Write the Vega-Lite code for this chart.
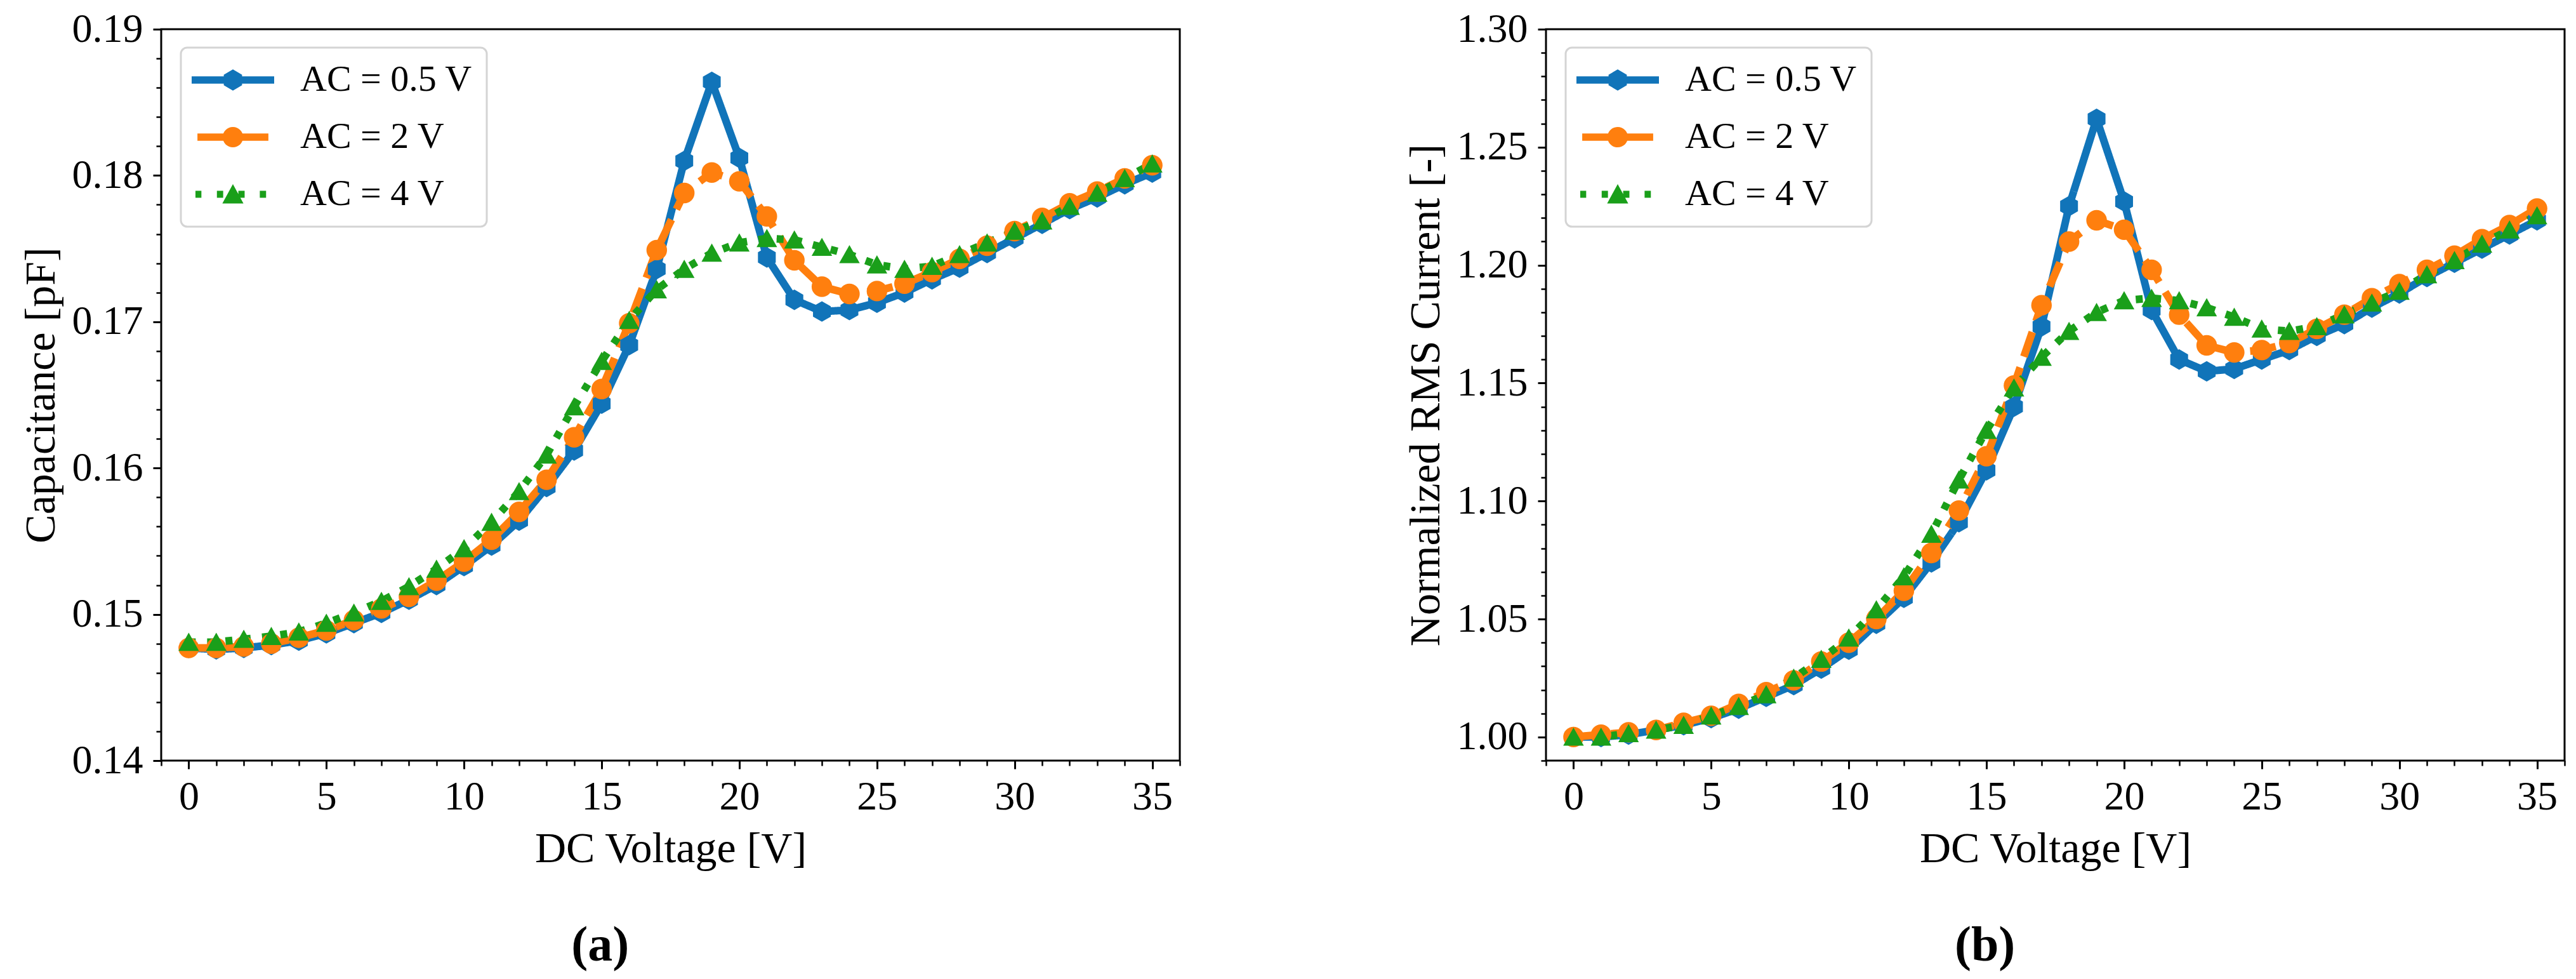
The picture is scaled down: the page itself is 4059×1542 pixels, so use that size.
{
  "$schema": "https://vega.github.io/schema/vega-lite/v6.json",
  "background": "white",
  "padding": {"left": 29, "top": 12, "right": 5, "bottom": 5},
  "datasets": {
    "cap": [
      {"v":0,"s":"AC = 0.5 V","y":0.1477},{"v":1,"s":"AC = 0.5 V","y":0.1476},{"v":2,"s":"AC = 0.5 V","y":0.1477},{"v":3,"s":"AC = 0.5 V","y":0.1479},
      {"v":4,"s":"AC = 0.5 V","y":0.1482},{"v":5,"s":"AC = 0.5 V","y":0.1487},{"v":6,"s":"AC = 0.5 V","y":0.1494},{"v":7,"s":"AC = 0.5 V","y":0.1501},
      {"v":8,"s":"AC = 0.5 V","y":0.1510},{"v":9,"s":"AC = 0.5 V","y":0.1520},{"v":10,"s":"AC = 0.5 V","y":0.1533},{"v":11,"s":"AC = 0.5 V","y":0.1547},
      {"v":12,"s":"AC = 0.5 V","y":0.1564},{"v":13,"s":"AC = 0.5 V","y":0.1587},{"v":14,"s":"AC = 0.5 V","y":0.1612},{"v":15,"s":"AC = 0.5 V","y":0.1644},
      {"v":16,"s":"AC = 0.5 V","y":0.1684},{"v":17,"s":"AC = 0.5 V","y":0.1736},{"v":18,"s":"AC = 0.5 V","y":0.1810},{"v":19,"s":"AC = 0.5 V","y":0.1864},
      {"v":20,"s":"AC = 0.5 V","y":0.1812},{"v":21,"s":"AC = 0.5 V","y":0.1744},{"v":22,"s":"AC = 0.5 V","y":0.1715},{"v":23,"s":"AC = 0.5 V","y":0.1707},
      {"v":24,"s":"AC = 0.5 V","y":0.1708},{"v":25,"s":"AC = 0.5 V","y":0.1713},{"v":26,"s":"AC = 0.5 V","y":0.1720},{"v":27,"s":"AC = 0.5 V","y":0.1729},
      {"v":28,"s":"AC = 0.5 V","y":0.1737},{"v":29,"s":"AC = 0.5 V","y":0.1747},{"v":30,"s":"AC = 0.5 V","y":0.1757},{"v":31,"s":"AC = 0.5 V","y":0.1767},
      {"v":32,"s":"AC = 0.5 V","y":0.1777},{"v":33,"s":"AC = 0.5 V","y":0.1785},{"v":34,"s":"AC = 0.5 V","y":0.1794},{"v":35,"s":"AC = 0.5 V","y":0.1802},
      {"v":0,"s":"AC = 2 V","y":0.1477},{"v":1,"s":"AC = 2 V","y":0.1477},{"v":2,"s":"AC = 2 V","y":0.1478},{"v":3,"s":"AC = 2 V","y":0.1480},
      {"v":4,"s":"AC = 2 V","y":0.1484},{"v":5,"s":"AC = 2 V","y":0.1489},{"v":6,"s":"AC = 2 V","y":0.1496},{"v":7,"s":"AC = 2 V","y":0.1504},
      {"v":8,"s":"AC = 2 V","y":0.1512},{"v":9,"s":"AC = 2 V","y":0.1523},{"v":10,"s":"AC = 2 V","y":0.1536},{"v":11,"s":"AC = 2 V","y":0.1551},
      {"v":12,"s":"AC = 2 V","y":0.1570},{"v":13,"s":"AC = 2 V","y":0.1592},{"v":14,"s":"AC = 2 V","y":0.1621},{"v":15,"s":"AC = 2 V","y":0.1654},
      {"v":16,"s":"AC = 2 V","y":0.1699},{"v":17,"s":"AC = 2 V","y":0.1749},{"v":18,"s":"AC = 2 V","y":0.1788},{"v":19,"s":"AC = 2 V","y":0.1802},
      {"v":20,"s":"AC = 2 V","y":0.1796},{"v":21,"s":"AC = 2 V","y":0.1772},{"v":22,"s":"AC = 2 V","y":0.1742},{"v":23,"s":"AC = 2 V","y":0.1724},
      {"v":24,"s":"AC = 2 V","y":0.1719},{"v":25,"s":"AC = 2 V","y":0.1721},{"v":26,"s":"AC = 2 V","y":0.1726},{"v":27,"s":"AC = 2 V","y":0.1734},
      {"v":28,"s":"AC = 2 V","y":0.1743},{"v":29,"s":"AC = 2 V","y":0.1752},{"v":30,"s":"AC = 2 V","y":0.1762},{"v":31,"s":"AC = 2 V","y":0.1771},
      {"v":32,"s":"AC = 2 V","y":0.1781},{"v":33,"s":"AC = 2 V","y":0.1789},{"v":34,"s":"AC = 2 V","y":0.1798},{"v":35,"s":"AC = 2 V","y":0.1807},
      {"v":0,"s":"AC = 4 V","y":0.1481},{"v":1,"s":"AC = 4 V","y":0.1481},{"v":2,"s":"AC = 4 V","y":0.1483},{"v":3,"s":"AC = 4 V","y":0.1485},
      {"v":4,"s":"AC = 4 V","y":0.1488},{"v":5,"s":"AC = 4 V","y":0.1494},{"v":6,"s":"AC = 4 V","y":0.1501},{"v":7,"s":"AC = 4 V","y":0.1509},
      {"v":8,"s":"AC = 4 V","y":0.1519},{"v":9,"s":"AC = 4 V","y":0.1531},{"v":10,"s":"AC = 4 V","y":0.1545},{"v":11,"s":"AC = 4 V","y":0.1563},
      {"v":12,"s":"AC = 4 V","y":0.1584},{"v":13,"s":"AC = 4 V","y":0.1609},{"v":14,"s":"AC = 4 V","y":0.1642},{"v":15,"s":"AC = 4 V","y":0.1673},
      {"v":16,"s":"AC = 4 V","y":0.1701},{"v":17,"s":"AC = 4 V","y":0.1722},{"v":18,"s":"AC = 4 V","y":0.1736},{"v":19,"s":"AC = 4 V","y":0.1747},
      {"v":20,"s":"AC = 4 V","y":0.1754},{"v":21,"s":"AC = 4 V","y":0.1757},{"v":22,"s":"AC = 4 V","y":0.1756},{"v":23,"s":"AC = 4 V","y":0.1751},
      {"v":24,"s":"AC = 4 V","y":0.1746},{"v":25,"s":"AC = 4 V","y":0.1739},{"v":26,"s":"AC = 4 V","y":0.1736},{"v":27,"s":"AC = 4 V","y":0.1738},
      {"v":28,"s":"AC = 4 V","y":0.1746},{"v":29,"s":"AC = 4 V","y":0.1754},{"v":30,"s":"AC = 4 V","y":0.1762},{"v":31,"s":"AC = 4 V","y":0.1769},
      {"v":32,"s":"AC = 4 V","y":0.1779},{"v":33,"s":"AC = 4 V","y":0.1788},{"v":34,"s":"AC = 4 V","y":0.1798},{"v":35,"s":"AC = 4 V","y":0.1808}
    ],
    "rms": [
      {"v":0,"s":"AC = 0.5 V","y":1.000},{"v":1,"s":"AC = 0.5 V","y":1.000},{"v":2,"s":"AC = 0.5 V","y":1.001},{"v":3,"s":"AC = 0.5 V","y":1.003},
      {"v":4,"s":"AC = 0.5 V","y":1.005},{"v":5,"s":"AC = 0.5 V","y":1.008},{"v":6,"s":"AC = 0.5 V","y":1.012},{"v":7,"s":"AC = 0.5 V","y":1.017},
      {"v":8,"s":"AC = 0.5 V","y":1.022},{"v":9,"s":"AC = 0.5 V","y":1.029},{"v":10,"s":"AC = 0.5 V","y":1.037},{"v":11,"s":"AC = 0.5 V","y":1.048},
      {"v":12,"s":"AC = 0.5 V","y":1.059},{"v":13,"s":"AC = 0.5 V","y":1.074},{"v":14,"s":"AC = 0.5 V","y":1.091},{"v":15,"s":"AC = 0.5 V","y":1.113},
      {"v":16,"s":"AC = 0.5 V","y":1.140},{"v":17,"s":"AC = 0.5 V","y":1.174},{"v":18,"s":"AC = 0.5 V","y":1.225},{"v":19,"s":"AC = 0.5 V","y":1.262},
      {"v":20,"s":"AC = 0.5 V","y":1.227},{"v":21,"s":"AC = 0.5 V","y":1.181},{"v":22,"s":"AC = 0.5 V","y":1.160},{"v":23,"s":"AC = 0.5 V","y":1.155},
      {"v":24,"s":"AC = 0.5 V","y":1.156},{"v":25,"s":"AC = 0.5 V","y":1.160},{"v":26,"s":"AC = 0.5 V","y":1.164},{"v":27,"s":"AC = 0.5 V","y":1.170},
      {"v":28,"s":"AC = 0.5 V","y":1.175},{"v":29,"s":"AC = 0.5 V","y":1.182},{"v":30,"s":"AC = 0.5 V","y":1.188},{"v":31,"s":"AC = 0.5 V","y":1.195},
      {"v":32,"s":"AC = 0.5 V","y":1.201},{"v":33,"s":"AC = 0.5 V","y":1.207},{"v":34,"s":"AC = 0.5 V","y":1.213},{"v":35,"s":"AC = 0.5 V","y":1.219},
      {"v":0,"s":"AC = 2 V","y":1.000},{"v":1,"s":"AC = 2 V","y":1.001},{"v":2,"s":"AC = 2 V","y":1.002},{"v":3,"s":"AC = 2 V","y":1.003},
      {"v":4,"s":"AC = 2 V","y":1.006},{"v":5,"s":"AC = 2 V","y":1.009},{"v":6,"s":"AC = 2 V","y":1.014},{"v":7,"s":"AC = 2 V","y":1.019},
      {"v":8,"s":"AC = 2 V","y":1.024},{"v":9,"s":"AC = 2 V","y":1.032},{"v":10,"s":"AC = 2 V","y":1.040},{"v":11,"s":"AC = 2 V","y":1.050},
      {"v":12,"s":"AC = 2 V","y":1.062},{"v":13,"s":"AC = 2 V","y":1.078},{"v":14,"s":"AC = 2 V","y":1.096},{"v":15,"s":"AC = 2 V","y":1.119},
      {"v":16,"s":"AC = 2 V","y":1.149},{"v":17,"s":"AC = 2 V","y":1.183},{"v":18,"s":"AC = 2 V","y":1.210},{"v":19,"s":"AC = 2 V","y":1.219},
      {"v":20,"s":"AC = 2 V","y":1.215},{"v":21,"s":"AC = 2 V","y":1.198},{"v":22,"s":"AC = 2 V","y":1.179},{"v":23,"s":"AC = 2 V","y":1.166},
      {"v":24,"s":"AC = 2 V","y":1.163},{"v":25,"s":"AC = 2 V","y":1.164},{"v":26,"s":"AC = 2 V","y":1.167},{"v":27,"s":"AC = 2 V","y":1.173},
      {"v":28,"s":"AC = 2 V","y":1.179},{"v":29,"s":"AC = 2 V","y":1.186},{"v":30,"s":"AC = 2 V","y":1.192},{"v":31,"s":"AC = 2 V","y":1.198},
      {"v":32,"s":"AC = 2 V","y":1.204},{"v":33,"s":"AC = 2 V","y":1.211},{"v":34,"s":"AC = 2 V","y":1.217},{"v":35,"s":"AC = 2 V","y":1.224},
      {"v":0,"s":"AC = 4 V","y":1.000},{"v":1,"s":"AC = 4 V","y":1.000},{"v":2,"s":"AC = 4 V","y":1.0015},{"v":3,"s":"AC = 4 V","y":1.003},
      {"v":4,"s":"AC = 4 V","y":1.005},{"v":5,"s":"AC = 4 V","y":1.009},{"v":6,"s":"AC = 4 V","y":1.013},{"v":7,"s":"AC = 4 V","y":1.018},
      {"v":8,"s":"AC = 4 V","y":1.025},{"v":9,"s":"AC = 4 V","y":1.033},{"v":10,"s":"AC = 4 V","y":1.042},{"v":11,"s":"AC = 4 V","y":1.054},
      {"v":12,"s":"AC = 4 V","y":1.068},{"v":13,"s":"AC = 4 V","y":1.086},{"v":14,"s":"AC = 4 V","y":1.109},{"v":15,"s":"AC = 4 V","y":1.130},
      {"v":16,"s":"AC = 4 V","y":1.148},{"v":17,"s":"AC = 4 V","y":1.161},{"v":18,"s":"AC = 4 V","y":1.172},{"v":19,"s":"AC = 4 V","y":1.180},
      {"v":20,"s":"AC = 4 V","y":1.185},{"v":21,"s":"AC = 4 V","y":1.186},{"v":22,"s":"AC = 4 V","y":1.185},{"v":23,"s":"AC = 4 V","y":1.182},
      {"v":24,"s":"AC = 4 V","y":1.178},{"v":25,"s":"AC = 4 V","y":1.173},{"v":26,"s":"AC = 4 V","y":1.172},{"v":27,"s":"AC = 4 V","y":1.174},
      {"v":28,"s":"AC = 4 V","y":1.179},{"v":29,"s":"AC = 4 V","y":1.184},{"v":30,"s":"AC = 4 V","y":1.189},{"v":31,"s":"AC = 4 V","y":1.196},
      {"v":32,"s":"AC = 4 V","y":1.202},{"v":33,"s":"AC = 4 V","y":1.209},{"v":34,"s":"AC = 4 V","y":1.215},{"v":35,"s":"AC = 4 V","y":1.221}
    ]
  },
  "config": {
    "font": "Liberation Serif",
    "view": {"stroke": "black", "strokeWidth": 3},
    "axis": {
      "domain": false, "grid": false,
      "tickColor": "black", "tickWidth": 3, "tickSize": 13,
      "labelColor": "black", "labelFont": "Liberation Serif", "labelFontSize": 64,
      "labelFlush": false, "labelOverlap": false,
      "titleColor": "black", "titleFont": "Liberation Serif", "titleFontSize": 68, "titleFontWeight": "normal"
    },
    "legend": {
      "title": null, "orient": "none", "legendX": 31, "legendY": 29,
      "symbolType": "circle", "symbolSize": 2704, "symbolStrokeWidth": 0,
      "symbolOffset": 31, "labelOffset": 77, "padding": 22, "rowPadding": 32,
      "labelFont": "Liberation Serif", "labelFontSize": 58, "labelColor": "black", "labelLimit": 0,
      "fillColor": "white", "strokeColor": "#d4d4d4", "cornerRadius": 10
    },
    "title": {"font": "Liberation Serif", "fontSize": 78, "fontWeight": "bold", "color": "black"}
  },
  "resolve": {"scale": {"color": "independent", "shape": "independent", "strokeDash": "independent"}},
  "spacing": 349,
  "hconcat": [
    {
      "width": 1605,
      "height": 1152,
      "data": {"name": "cap"},
      "title": {"text": "(a)", "orient": "bottom", "anchor": "middle", "frame": "bounds", "offset": 80},
      "encoding": {
        "color": {
          "field": "s", "type": "nominal",
          "scale": {"domain": ["AC = 0.5 V", "AC = 2 V", "AC = 4 V"], "range": ["#1174b9", "#ff7f0e", "#1a9f1a"]},
          "legend": {
            "encoding": {
              "legend": {"strokeWidth": {"value": 3}},
              "symbols": {
                "shape": {"value": {"expr": "datum.value === 'AC = 0.5 V' ? 'M-2.5,-0.22L2.5,-0.22L2.5,0.22L-2.5,0.22Z M0,-0.64L0.554,-0.32L0.554,0.32L0,0.64L-0.554,0.32L-0.554,-0.32Z' : datum.value === 'AC = 2 V' ? 'M-2.15,-0.22L2.15,-0.22L2.15,0.22L-2.15,0.22Z M0.62,0A0.62,0.62 0 1,1 -0.62,0A0.62,0.62 0 1,1 0.62,0Z' : 'M-2.27,-0.21L-1.91,-0.21L-1.91,0.21L-2.27,0.21Z M-0.97,-0.21L-0.59,-0.21L-0.59,0.21L-0.97,0.21Z M0.33,-0.21L0.71,-0.21L0.71,0.21L0.33,0.21Z M1.63,-0.21L2.01,-0.21L2.01,0.21L1.63,0.21Z M0,-0.62L0.64,0.56L-0.64,0.56Z'"}},
                "fill": {"value": {"expr": "datum.value === 'AC = 0.5 V' ? '#1174b9' : datum.value === 'AC = 2 V' ? '#ff7f0e' : '#1a9f1a'"}},
                "fillOpacity": {"value": 1},
                "opacity": {"value": 1},
                "stroke": {"value": "transparent"},
                "strokeWidth": {"value": 0},
                "size": {"value": 2704}
              }
            }
          }
        }
      },
      "layer": [
        {
          "mark": {"type": "line", "strokeWidth": 12, "strokeJoin": "round", "strokeCap": "butt"},
          "encoding": {
            "x": {"field": "v", "type": "quantitative", "scale": {"domain": [-1, 36]}, "axis": null},
            "y": {"field": "y", "type": "quantitative", "scale": {"domain": [0.14, 0.19]}, "axis": null},
            "strokeDash": {
              "field": "s", "type": "nominal", "legend": null,
              "scale": {"range": [[1, 0], [41, 18], [11, 18]]}
            }
          }
        },
        {
          "mark": {"type": "point", "filled": true, "size": 1050, "opacity": 1},
          "encoding": {
            "x": {
              "field": "v", "type": "quantitative", "scale": {"domain": [-1, 36]},
              "axis": {"orient": "bottom", "title": "DC Voltage [V]", "values": [0, 5, 10, 15, 20, 25, 30, 35], "labelPadding": 12, "titlePadding": 16}
            },
            "y": {
              "field": "y", "type": "quantitative", "scale": {"domain": [0.14, 0.19]},
              "axis": {"orient": "left", "title": "Capacitance [pF]", "values": [0.14, 0.15, 0.16, 0.17, 0.18, 0.19], "format": ".2f", "labelPadding": 16, "titlePadding": 14}
            },
            "shape": {
              "field": "s", "type": "nominal", "legend": null,
              "scale": {"range": ["M0,-1L0.866,-0.5L0.866,0.5L0,1L-0.866,0.5L-0.866,-0.5Z", "circle", "M0,-0.92L1,0.85L-1,0.85Z"]}
            }
          }
        },
        {
          "mark": {"type": "point", "opacity": 0},
          "encoding": {
            "x": {
              "field": "v", "type": "quantitative", "scale": {"domain": [-1, 36]},
              "axis": {"orient": "bottom", "title": null, "labels": false, "tickSize": 8, "tickWidth": 2.5,
                "values": [-1,0,1,2,3,4,5,6,7,8,9,10,11,12,13,14,15,16,17,18,19,20,21,22,23,24,25,26,27,28,29,30,31,32,33,34,35,36]}
            },
            "y": {
              "field": "y", "type": "quantitative", "scale": {"domain": [0.14, 0.19]},
              "axis": {"orient": "left", "title": null, "labels": false, "tickSize": 8, "tickWidth": 2.5,
                "values": [0.14,0.142,0.144,0.146,0.148,0.15,0.152,0.154,0.156,0.158,0.16,0.162,0.164,0.166,0.168,0.17,0.172,0.174,0.176,0.178,0.18,0.182,0.184,0.186,0.188,0.19]}
            }
          }
        }
      ],
      "resolve": {"axis": {"x": "independent", "y": "independent"}}
    },
    {
      "width": 1605,
      "height": 1152,
      "data": {"name": "rms"},
      "title": {"text": "(b)", "orient": "bottom", "anchor": "middle", "frame": "bounds", "offset": 80},
      "encoding": {
        "color": {
          "field": "s", "type": "nominal",
          "scale": {"domain": ["AC = 0.5 V", "AC = 2 V", "AC = 4 V"], "range": ["#1174b9", "#ff7f0e", "#1a9f1a"]},
          "legend": {
            "encoding": {
              "legend": {"strokeWidth": {"value": 3}},
              "symbols": {
                "shape": {"value": {"expr": "datum.value === 'AC = 0.5 V' ? 'M-2.5,-0.22L2.5,-0.22L2.5,0.22L-2.5,0.22Z M0,-0.64L0.554,-0.32L0.554,0.32L0,0.64L-0.554,0.32L-0.554,-0.32Z' : datum.value === 'AC = 2 V' ? 'M-2.15,-0.22L2.15,-0.22L2.15,0.22L-2.15,0.22Z M0.62,0A0.62,0.62 0 1,1 -0.62,0A0.62,0.62 0 1,1 0.62,0Z' : 'M-2.27,-0.21L-1.91,-0.21L-1.91,0.21L-2.27,0.21Z M-0.97,-0.21L-0.59,-0.21L-0.59,0.21L-0.97,0.21Z M0.33,-0.21L0.71,-0.21L0.71,0.21L0.33,0.21Z M1.63,-0.21L2.01,-0.21L2.01,0.21L1.63,0.21Z M0,-0.62L0.64,0.56L-0.64,0.56Z'"}},
                "fill": {"value": {"expr": "datum.value === 'AC = 0.5 V' ? '#1174b9' : datum.value === 'AC = 2 V' ? '#ff7f0e' : '#1a9f1a'"}},
                "fillOpacity": {"value": 1},
                "opacity": {"value": 1},
                "stroke": {"value": "transparent"},
                "strokeWidth": {"value": 0},
                "size": {"value": 2704}
              }
            }
          }
        }
      },
      "layer": [
        {
          "mark": {"type": "line", "strokeWidth": 12, "strokeJoin": "round", "strokeCap": "butt"},
          "encoding": {
            "x": {"field": "v", "type": "quantitative", "scale": {"domain": [-1, 36]}, "axis": null},
            "y": {"field": "y", "type": "quantitative", "scale": {"domain": [0.99, 1.3]}, "axis": null},
            "strokeDash": {
              "field": "s", "type": "nominal", "legend": null,
              "scale": {"range": [[1, 0], [41, 18], [11, 18]]}
            }
          }
        },
        {
          "mark": {"type": "point", "filled": true, "size": 1050, "opacity": 1},
          "encoding": {
            "x": {
              "field": "v", "type": "quantitative", "scale": {"domain": [-1, 36]},
              "axis": {"orient": "bottom", "title": "DC Voltage [V]", "values": [0, 5, 10, 15, 20, 25, 30, 35], "labelPadding": 12, "titlePadding": 16}
            },
            "y": {
              "field": "y", "type": "quantitative", "scale": {"domain": [0.99, 1.3]},
              "axis": {"orient": "left", "title": "Normalized RMS Current [-]", "values": [1.0, 1.05, 1.1, 1.15, 1.2, 1.25, 1.3], "format": ".2f", "labelPadding": 16, "titlePadding": 14}
            },
            "shape": {
              "field": "s", "type": "nominal", "legend": null,
              "scale": {"range": ["M0,-1L0.866,-0.5L0.866,0.5L0,1L-0.866,0.5L-0.866,-0.5Z", "circle", "M0,-0.92L1,0.85L-1,0.85Z"]}
            }
          }
        },
        {
          "mark": {"type": "point", "opacity": 0},
          "encoding": {
            "x": {
              "field": "v", "type": "quantitative", "scale": {"domain": [-1, 36]},
              "axis": {"orient": "bottom", "title": null, "labels": false, "tickSize": 8, "tickWidth": 2.5,
                "values": [-1,0,1,2,3,4,5,6,7,8,9,10,11,12,13,14,15,16,17,18,19,20,21,22,23,24,25,26,27,28,29,30,31,32,33,34,35,36]}
            },
            "y": {
              "field": "y", "type": "quantitative", "scale": {"domain": [0.99, 1.3]},
              "axis": {"orient": "left", "title": null, "labels": false, "tickSize": 8, "tickWidth": 2.5,
                "values": [0.99,1.0,1.01,1.02,1.03,1.04,1.05,1.06,1.07,1.08,1.09,1.1,1.11,1.12,1.13,1.14,1.15,1.16,1.17,1.18,1.19,1.2,1.21,1.22,1.23,1.24,1.25,1.26,1.27,1.28,1.29,1.3]}
            }
          }
        }
      ],
      "resolve": {"axis": {"x": "independent", "y": "independent"}}
    }
  ]
}
